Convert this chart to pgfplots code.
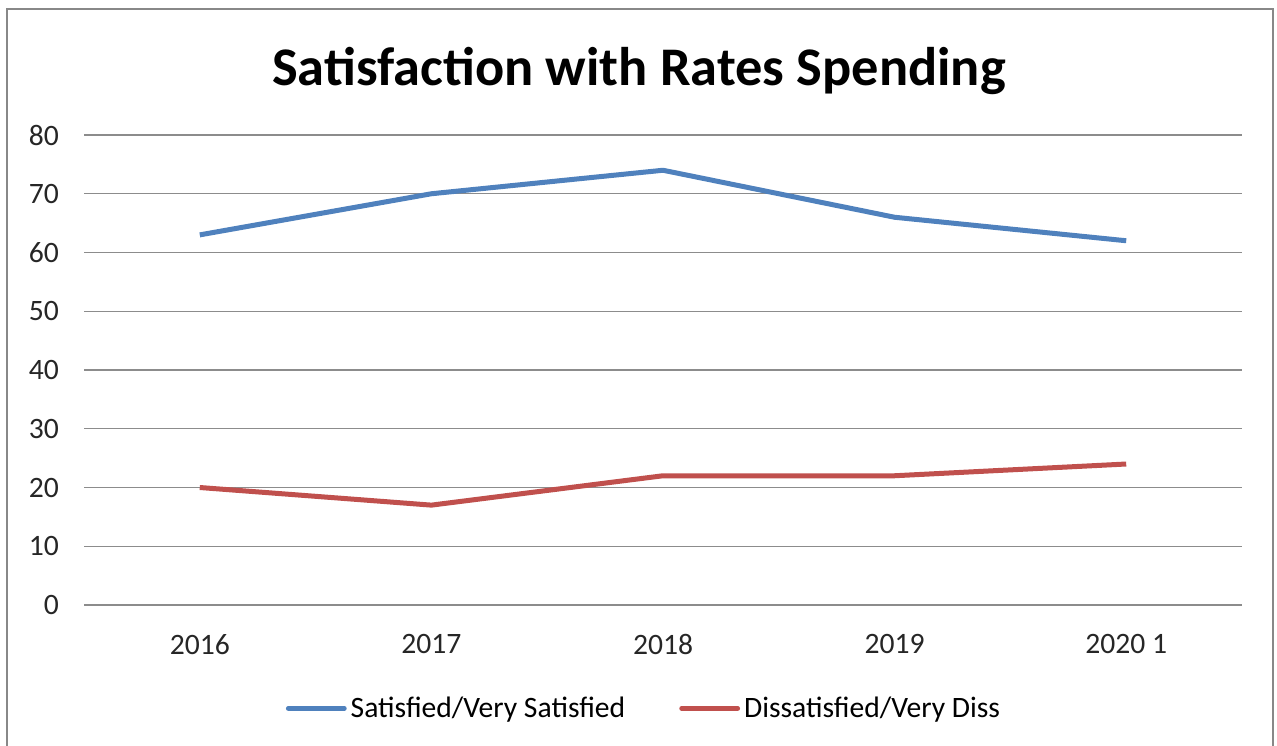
\documentclass[border=0pt]{standalone}
\usepackage{pgfplots}
\pgfplotsset{compat=1.18}
\usepackage{fontspec}
\setmainfont{Carlito}
\definecolor{xlblue}{HTML}{4F81BD}
\definecolor{xlred}{HTML}{C0504D}
\definecolor{gridgray}{HTML}{8C8C8C}
\definecolor{framegray}{HTML}{888888}
\begin{document}
\begin{tikzpicture}
\useasboundingbox (0pt,0pt) rectangle (638.5pt,372.5pt);
\draw[framegray,line width=1.2pt] (3.5pt,-5pt) -- (3.5pt,368pt) -- (636.5pt,368pt) -- (636.5pt,-5pt);
\node[font=\fontsize{27.2}{32}\selectfont\bfseries] at (319.5pt,337pt) {Satisfaction with Rates Spending};
\begin{axis}[
  at={(42pt,70pt)}, anchor=south west,
  scale only axis, width=579pt, height=235pt,
  xmin=-0.5, xmax=4.5, ymin=0, ymax=80,
  xtick={0,1,2,3,4},
  xticklabels={2016,2017,2018,2019,2020 1},
  ytick={0,10,...,80},
  major tick length=0pt,
  axis line style={draw=none},
  ymajorgrids, grid style={gridgray,line width=0.7pt},
  /pgf/number format/assume math mode=true,
  tick label style={font=\fontsize{14.8}{17}\selectfont, color=black!85},
  yticklabel style={xshift=-9pt},
  xticklabel style={yshift=-11pt},
  legend columns=2,
  legend style={at={(axis description cs:0.5,-0.22)}, anchor=center, xshift=-9pt,
    draw=none, fill=none, font=\fontsize{14.8}{17}\selectfont,
    /tikz/every even column/.append style={column sep=25pt}},
  legend image code/.code={\draw[#1, line width=2.4pt, line cap=round] (0pt,0pt) -- (28pt,0pt);},
]
\addplot[xlblue, line width=2.5pt, line join=round] coordinates {(0,63) (1,70) (2,74) (3,66) (4,62)};
\addlegendentry{Satisfied/Very Satisfied}
\addplot[xlred, line width=2.5pt, line join=round] coordinates {(0,20) (1,17) (2,22) (3,22) (4,24)};
\addlegendentry{Dissatisfied/Very Diss}
\end{axis}
\end{tikzpicture}
\end{document}
